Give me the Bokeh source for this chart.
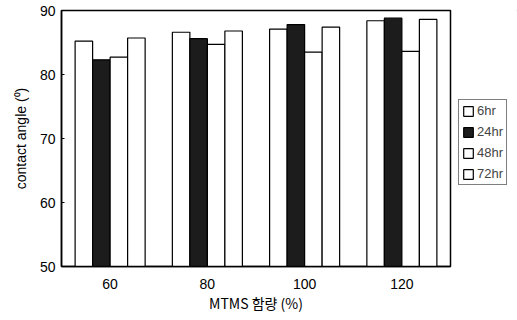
from bokeh.plotting import figure
from bokeh.layouts import row
from bokeh.models import FixedTicker, Legend, LegendItem, Range1d
from bokeh.embed import file_html
from bokeh.resources import INLINE

categories = ["60", "80", "100", "120"]
series_names = ["6hr", "24hr", "48hr", "72hr"]
v6 = [85.2, 86.6, 87.1, 88.4]
v24 = [82.3, 85.6, 87.8, 88.8]
v48 = [82.7, 84.7, 83.5, 83.6]
v72 = [85.7, 86.8, 87.4, 88.6]
y_ticks = [50, 60, 70, 80, 90]

series = [v6, v24, v48, v72]
fills = ["white", "#1c1c1c", "white", "white"]
offsets = [-0.27, -0.09, 0.09, 0.27]
bw = 0.18

FONT = "Liberation Sans"

p = figure(width=458, height=320, output_backend="svg", toolbar_location=None,
           x_range=Range1d(0.5, 4.5), y_range=Range1d(50, 90),
           min_border_left=61, min_border_top=10, min_border_bottom=54, min_border_right=8)
p.outline_line_color = "black"
p.outline_line_width = 1.5
p.xgrid.visible = False
p.ygrid.visible = False

xs = list(range(1, len(categories) + 1))
for name, vals, fc, off in zip(series_names, series, fills, offsets):
    p.vbar(x=[x + off for x in xs], top=vals, bottom=50, width=bw,
           fill_color=fc, line_color="black", line_width=1.2)

p.xaxis.ticker = FixedTicker(ticks=xs)
p.xaxis.major_label_overrides = {x: c for x, c in zip(xs, categories)}
p.yaxis.ticker = FixedTicker(ticks=y_ticks)
for ax in (p.xaxis[0], p.yaxis[0]):
    ax.axis_line_color = "black"
    ax.axis_line_width = 1.5
    ax.major_tick_line_color = "black"
    ax.minor_tick_line_color = None
    ax.major_label_text_font = FONT
    ax.major_label_text_font_size = "14px"
    ax.major_label_text_color = "black"
    ax.axis_label_text_font = FONT
    ax.axis_label_text_font_size = "14px"
    ax.axis_label_text_font_style = "normal"
    ax.axis_label_text_color = "black"
p.xaxis.major_tick_out = 0
p.xaxis.major_tick_in = 0
p.yaxis.major_tick_out = 0
p.yaxis.major_tick_in = 3
p.xaxis.major_label_standoff = 12
p.yaxis.major_label_standoff = 6
p.xaxis.axis_label = "MTMS 함량 (%)"
p.yaxis.axis_label = "contact angle (⁰)"
p.xaxis.axis_label_text_font = "Noto Sans CJK KR"
p.xaxis.axis_label_standoff = 1
p.yaxis.axis_label_standoff = 8

# legend panel
q = figure(width=59, height=320, output_backend="svg", toolbar_location=None,
           x_axis_location=None, y_axis_location=None,
           x_range=Range1d(0, 1), y_range=Range1d(0, 1),
           min_border_left=0, min_border_right=0, min_border_top=0, min_border_bottom=0)
q.outline_line_color = None
q.xgrid.visible = False
q.ygrid.visible = False
items = []
for name, fc in zip(series_names, fills):
    r = q.vbar(x=[100], top=[100.5], bottom=100, width=0.1, fill_color=fc,
               line_color="black", line_width=1.2)
    items.append(LegendItem(label=name, renderers=[r]))
legend = Legend(items=items, location=(0, 81), label_text_font=FONT,
                label_text_font_size="13px", glyph_width=12, glyph_height=12,
                label_standoff=3, spacing=6, padding=3, margin=0,
                border_line_color="black", border_line_width=1,
                label_height=13, label_width=10, background_fill_color="white")
q.add_layout(legend, "center")

open("out.html", "w").write(file_html(row(p, q), INLINE))
